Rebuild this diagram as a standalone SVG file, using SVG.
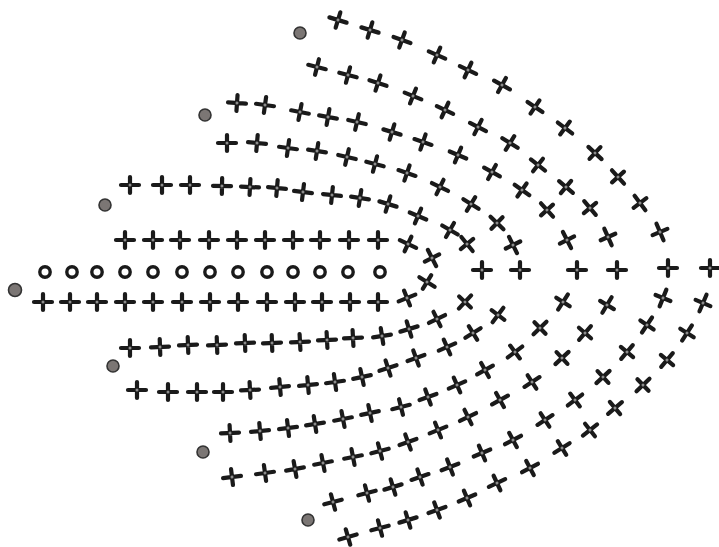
<svg xmlns="http://www.w3.org/2000/svg" xmlns:xlink="http://www.w3.org/1999/xlink" width="719" height="547" viewBox="0 0 719 547">
<style>
.arm{stroke:#1a1a1a;stroke-width:4.2;stroke-linecap:round;fill:none}
.ring{fill:#fff;stroke:#1a1a1a;stroke-width:3.4}
.dot{fill:#7b7674;stroke:#333;stroke-width:1.6}
</style>
<defs>
<g id="c"><path class="arm" d="M-9 0H9M0-8V8"/><circle r="1.5" fill="#8c8c8c"/></g>
</defs>
<rect width="719" height="547" fill="#fff"/>
<g id="dots">
<circle class="dot" cx="300" cy="33" r="6"/>
<circle class="dot" cx="205" cy="115" r="6"/>
<circle class="dot" cx="105" cy="205" r="6"/>
<circle class="dot" cx="15" cy="290" r="6.5"/>
<circle class="dot" cx="113" cy="366" r="6"/>
<circle class="dot" cx="203" cy="452" r="6"/>
<circle class="dot" cx="308" cy="520" r="6"/>
</g>
<g id="chain">
<circle class="ring" cx="45" cy="272" r="5.2"/>
<circle class="ring" cx="72" cy="272" r="5.2"/>
<circle class="ring" cx="97" cy="272" r="5.2"/>
<circle class="ring" cx="125" cy="272" r="5.2"/>
<circle class="ring" cx="153" cy="272" r="5.2"/>
<circle class="ring" cx="182" cy="272" r="5.2"/>
<circle class="ring" cx="210" cy="272" r="5.2"/>
<circle class="ring" cx="238" cy="272" r="5.2"/>
<circle class="ring" cx="267" cy="272" r="5.2"/>
<circle class="ring" cx="293" cy="272" r="5.2"/>
<circle class="ring" cx="320" cy="272" r="5.2"/>
<circle class="ring" cx="348" cy="272" r="5.2"/>
<circle class="ring" cx="380" cy="272" r="5.2"/>
</g>
<g id="row1">
<use href="#c" transform="translate(338,20) rotate(17)"/>
<use href="#c" transform="translate(370,30) rotate(17)"/>
<use href="#c" transform="translate(402,40) rotate(20)"/>
<use href="#c" transform="translate(437,55) rotate(24)"/>
<use href="#c" transform="translate(468,70) rotate(25)"/>
<use href="#c" transform="translate(502,85) rotate(29)"/>
<use href="#c" transform="translate(535,107) rotate(34)"/>
<use href="#c" transform="translate(565,128) rotate(37)"/>
<use href="#c" transform="translate(595,153) rotate(43)"/>
<use href="#c" transform="translate(618,177) rotate(48)"/>
<use href="#c" transform="translate(640,203) rotate(53)"/>
<use href="#c" transform="translate(660,232) rotate(67)"/>
<use href="#c" transform="translate(668,268)"/>
</g>
<g id="row2">
<use href="#c" transform="translate(317,67) rotate(14)"/>
<use href="#c" transform="translate(348,75) rotate(15)"/>
<use href="#c" transform="translate(378,83) rotate(18)"/>
<use href="#c" transform="translate(413,96) rotate(22)"/>
<use href="#c" transform="translate(445,110) rotate(25)"/>
<use href="#c" transform="translate(478,127) rotate(27)"/>
<use href="#c" transform="translate(510,143) rotate(32)"/>
<use href="#c" transform="translate(538,165) rotate(38)"/>
<use href="#c" transform="translate(566,187) rotate(40)"/>
<use href="#c" transform="translate(590,208) rotate(50)"/>
<use href="#c" transform="translate(608,237) rotate(66)"/>
<use href="#c" transform="translate(617,270)"/>
</g>
<g id="row3">
<use href="#c" transform="translate(237,103) rotate(4)"/>
<use href="#c" transform="translate(265,105) rotate(8)"/>
<use href="#c" transform="translate(300,112) rotate(11)"/>
<use href="#c" transform="translate(328,117) rotate(10)"/>
<use href="#c" transform="translate(357,122) rotate(13)"/>
<use href="#c" transform="translate(392,132) rotate(17)"/>
<use href="#c" transform="translate(423,142) rotate(19)"/>
<use href="#c" transform="translate(458,155) rotate(23)"/>
<use href="#c" transform="translate(492,172) rotate(29)"/>
<use href="#c" transform="translate(522,190) rotate(35)"/>
<use href="#c" transform="translate(547,210) rotate(48)"/>
<use href="#c" transform="translate(567,240) rotate(63)"/>
<use href="#c" transform="translate(577,270)"/>
</g>
<g id="row4">
<use href="#c" transform="translate(227,143)"/>
<use href="#c" transform="translate(257,143) rotate(5)"/>
<use href="#c" transform="translate(288,148) rotate(8)"/>
<use href="#c" transform="translate(317,151) rotate(9)"/>
<use href="#c" transform="translate(347,157) rotate(13)"/>
<use href="#c" transform="translate(375,164) rotate(15)"/>
<use href="#c" transform="translate(407,173) rotate(19)"/>
<use href="#c" transform="translate(440,187) rotate(26)"/>
<use href="#c" transform="translate(471,204) rotate(32)"/>
<use href="#c" transform="translate(497,223) rotate(44)"/>
<use href="#c" transform="translate(513,245) rotate(64)"/>
<use href="#c" transform="translate(520,270)"/>
</g>
<g id="row5">
<use href="#c" transform="translate(130,185)"/>
<use href="#c" transform="translate(162,185)"/>
<use href="#c" transform="translate(190,185)"/>
<use href="#c" transform="translate(222,186) rotate(1)"/>
<use href="#c" transform="translate(250,187) rotate(3)"/>
<use href="#c" transform="translate(277,188) rotate(5)"/>
<use href="#c" transform="translate(303,192) rotate(7)"/>
<use href="#c" transform="translate(332,195) rotate(6)"/>
<use href="#c" transform="translate(360,198) rotate(9)"/>
<use href="#c" transform="translate(388,204) rotate(17)"/>
<use href="#c" transform="translate(418,216) rotate(23)"/>
<use href="#c" transform="translate(450,230) rotate(30)"/>
<use href="#c" transform="translate(467,244) rotate(51)"/>
<use href="#c" transform="translate(482,270)"/>
</g>
<g id="row6">
<use href="#c" transform="translate(125,240)"/>
<use href="#c" transform="translate(153,240)"/>
<use href="#c" transform="translate(180,240)"/>
<use href="#c" transform="translate(209,240)"/>
<use href="#c" transform="translate(237,240)"/>
<use href="#c" transform="translate(265,240)"/>
<use href="#c" transform="translate(293,240)"/>
<use href="#c" transform="translate(320,240)"/>
<use href="#c" transform="translate(349,240)"/>
<use href="#c" transform="translate(378,240)"/>
<use href="#c" transform="translate(408,244) rotate(25)"/>
<use href="#c" transform="translate(432,258) rotate(63)"/>
<use href="#c" transform="translate(427,282) rotate(32)"/>
<use href="#c" transform="translate(407,298) rotate(-22)"/>
<use href="#c" transform="translate(378,302)"/>
<use href="#c" transform="translate(350,302)"/>
<use href="#c" transform="translate(322,302)"/>
<use href="#c" transform="translate(295,302)"/>
<use href="#c" transform="translate(267,302)"/>
<use href="#c" transform="translate(238,302)"/>
<use href="#c" transform="translate(210,302)"/>
<use href="#c" transform="translate(182,302)"/>
<use href="#c" transform="translate(153,302)"/>
<use href="#c" transform="translate(125,302)"/>
<use href="#c" transform="translate(97,302)"/>
<use href="#c" transform="translate(70,302)"/>
<use href="#c" transform="translate(43,302)"/>
</g>
<g id="row7">
<use href="#c" transform="translate(130,348)"/>
<use href="#c" transform="translate(160,347) rotate(-2)"/>
<use href="#c" transform="translate(188,345) rotate(-2)"/>
<use href="#c" transform="translate(217,345) rotate(-2)"/>
<use href="#c" transform="translate(245,343) rotate(-2)"/>
<use href="#c" transform="translate(272,343) rotate(-2)"/>
<use href="#c" transform="translate(300,342) rotate(-3)"/>
<use href="#c" transform="translate(327,340) rotate(-3)"/>
<use href="#c" transform="translate(353,338) rotate(-3)"/>
<use href="#c" transform="translate(382,336) rotate(-9)"/>
<use href="#c" transform="translate(409,329) rotate(-17)"/>
<use href="#c" transform="translate(437,319) rotate(-26)"/>
<use href="#c" transform="translate(465,302) rotate(-47)"/>
</g>
<g id="row8">
<use href="#c" transform="translate(137,390)"/>
<use href="#c" transform="translate(168,392)"/>
<use href="#c" transform="translate(197,392)"/>
<use href="#c" transform="translate(223,392)"/>
<use href="#c" transform="translate(250,390) rotate(-3)"/>
<use href="#c" transform="translate(280,387) rotate(-5)"/>
<use href="#c" transform="translate(308,385) rotate(-5)"/>
<use href="#c" transform="translate(335,382) rotate(-8)"/>
<use href="#c" transform="translate(362,377) rotate(-12)"/>
<use href="#c" transform="translate(388,368) rotate(-18)"/>
<use href="#c" transform="translate(416,358) rotate(-20)"/>
<use href="#c" transform="translate(447,347) rotate(-24)"/>
<use href="#c" transform="translate(473,333) rotate(-32)"/>
<use href="#c" transform="translate(498,315) rotate(-53)"/>
</g>
<g id="row9">
<use href="#c" transform="translate(230,433) rotate(-3)"/>
<use href="#c" transform="translate(260,431) rotate(-5)"/>
<use href="#c" transform="translate(288,428) rotate(-7)"/>
<use href="#c" transform="translate(315,424) rotate(-9)"/>
<use href="#c" transform="translate(343,419) rotate(-11)"/>
<use href="#c" transform="translate(370,413) rotate(-12)"/>
<use href="#c" transform="translate(401,407) rotate(-14)"/>
<use href="#c" transform="translate(428,397) rotate(-20)"/>
<use href="#c" transform="translate(457,385) rotate(-24)"/>
<use href="#c" transform="translate(485,370) rotate(-29)"/>
<use href="#c" transform="translate(515,352) rotate(-37)"/>
<use href="#c" transform="translate(540,328) rotate(-44)"/>
<use href="#c" transform="translate(563,302) rotate(-57)"/>
</g>
<g id="row10">
<use href="#c" transform="translate(232,477) rotate(-7)"/>
<use href="#c" transform="translate(265,473) rotate(-8)"/>
<use href="#c" transform="translate(295,469) rotate(-10)"/>
<use href="#c" transform="translate(323,463) rotate(-11)"/>
<use href="#c" transform="translate(353,457) rotate(-11)"/>
<use href="#c" transform="translate(380,451) rotate(-15)"/>
<use href="#c" transform="translate(408,442) rotate(-20)"/>
<use href="#c" transform="translate(438,430) rotate(-22)"/>
<use href="#c" transform="translate(468,417) rotate(-26)"/>
<use href="#c" transform="translate(500,400) rotate(-29)"/>
<use href="#c" transform="translate(532,382) rotate(-33)"/>
<use href="#c" transform="translate(562,358) rotate(-43)"/>
<use href="#c" transform="translate(585,333) rotate(-49)"/>
<use href="#c" transform="translate(607,305) rotate(-59)"/>
</g>
<g id="row11">
<use href="#c" transform="translate(333,502) rotate(-15)"/>
<use href="#c" transform="translate(367,493) rotate(-15)"/>
<use href="#c" transform="translate(393,487) rotate(-17)"/>
<use href="#c" transform="translate(420,477) rotate(-19)"/>
<use href="#c" transform="translate(450,467) rotate(-21)"/>
<use href="#c" transform="translate(482,453) rotate(-23)"/>
<use href="#c" transform="translate(513,440) rotate(-28)"/>
<use href="#c" transform="translate(545,420) rotate(-33)"/>
<use href="#c" transform="translate(575,400) rotate(-37)"/>
<use href="#c" transform="translate(603,377) rotate(-43)"/>
<use href="#c" transform="translate(627,352) rotate(-50)"/>
<use href="#c" transform="translate(647,325) rotate(-56)"/>
<use href="#c" transform="translate(663,298) rotate(-68)"/>
</g>
<g id="row12">
<use href="#c" transform="translate(348,537) rotate(-16)"/>
<use href="#c" transform="translate(380,528) rotate(-15)"/>
<use href="#c" transform="translate(408,520) rotate(-17)"/>
<use href="#c" transform="translate(437,510) rotate(-20)"/>
<use href="#c" transform="translate(467,498) rotate(-23)"/>
<use href="#c" transform="translate(497,483) rotate(-25)"/>
<use href="#c" transform="translate(530,468) rotate(-28)"/>
<use href="#c" transform="translate(562,448) rotate(-32)"/>
<use href="#c" transform="translate(590,430) rotate(-38)"/>
<use href="#c" transform="translate(615,408) rotate(-40)"/>
<use href="#c" transform="translate(643,385) rotate(-44)"/>
<use href="#c" transform="translate(667,360) rotate(-50)"/>
<use href="#c" transform="translate(687,333) rotate(-57)"/>
<use href="#c" transform="translate(703,303) rotate(-67)"/>
<use href="#c" transform="translate(710,268)"/>
</g>
</svg>
